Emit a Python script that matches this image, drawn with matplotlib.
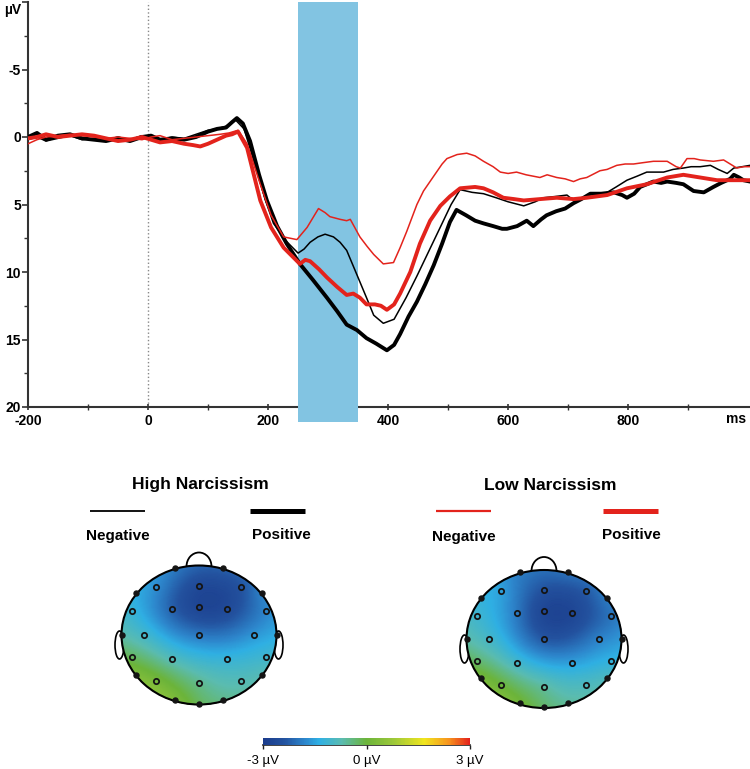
import numpy as np
import matplotlib
matplotlib.use("Agg")
import matplotlib.pyplot as plt
from matplotlib.colors import LinearSegmentedColormap, Normalize
from matplotlib.patches import Ellipse, Rectangle

plt.rcParams['font.family'] = ['Liberation Sans', 'DejaVu Sans']

# ---------------------------------------------------------------------
# ERP waveforms (ms, µV; negative plotted upward)
# ---------------------------------------------------------------------
hi_pos_t = [-200, -185, -170, -150, -130, -110, -90, -70, -50, -30, -10, 5, 20, 40, 60, 80, 100, 115, 130, 140,
            148, 158, 170, 185, 198, 215, 231, 253, 275, 298, 315, 331, 348, 364, 380, 398, 410, 420, 434, 448,
            462, 476, 490, 503, 514, 530, 545, 559, 575, 590, 598, 615, 631, 642, 655, 664, 680, 695, 709, 722,
            737, 755, 776, 790, 798, 810, 820, 831, 842, 855, 865, 880, 892, 909, 926, 942, 955, 970, 976, 985,
            992, 1003]
hi_pos_v = [0.0, -0.3, 0.2, -0.1, -0.2, 0.1, 0.2, 0.3, 0.1, 0.3, 0.0, -0.1, 0.2, 0.1, 0.2, 0.0, -0.4, -0.6, -0.7, -1.1,
            -1.4, -1.0, 0.3, 2.8, 4.7, 6.6, 7.9, 9.4, 10.6, 11.9, 12.9, 13.9, 14.3, 14.9, 15.3, 15.8, 15.4, 14.6, 13.3, 12.2,
            10.9, 9.5, 7.9, 6.3, 5.4, 5.8, 6.2, 6.4, 6.6, 6.8, 6.8, 6.6, 6.2, 6.6, 6.1, 5.8, 5.5, 5.3, 4.9, 4.6,
            4.2, 4.2, 4.1, 4.3, 4.5, 4.2, 3.7, 3.5, 3.3, 3.4, 3.3, 3.4, 3.5, 4.0, 4.1, 3.7, 3.4, 3.1, 2.8, 3.0,
            3.2, 3.3]

hi_neg_t = [-200, -185, -170, -150, -130, -110, -90, -70, -50, -30, -10, 5, 20, 40, 60, 80, 100, 115, 130, 145,
            160, 180, 195, 209, 230, 250, 260, 270, 283, 295, 309, 320, 331, 348, 364, 376, 392, 410, 430, 448,
            462, 476, 490, 505, 520, 540, 559, 580, 600, 626, 645, 659, 680, 698, 709, 720, 731, 750, 765, 780,
            798, 815, 831, 845, 859, 875, 892, 905, 920, 937, 950, 965, 976, 990, 1003]
hi_neg_v = [0.2, 0.0, 0.3, 0.1, -0.1, 0.2, 0.1, 0.2, 0.0, 0.2, -0.1, 0.1, 0.2, 0.0, 0.1, -0.2, -0.5, -0.6, -0.8, -1.3,
            -0.6, 2.3, 4.6, 6.4, 7.7, 8.6, 8.3, 7.8, 7.4, 7.2, 7.4, 7.8, 8.4, 10.2, 11.9, 13.2, 13.8, 13.5, 11.9, 10.3,
            9.0, 7.7, 6.4, 5.0, 3.9, 4.1, 4.2, 4.5, 4.8, 5.1, 4.8, 4.5, 4.4, 4.3, 4.7, 4.6, 4.5, 4.3, 4.1, 3.7,
            3.2, 2.9, 2.6, 2.6, 2.6, 2.4, 2.3, 2.2, 2.2, 2.1, 2.4, 2.7, 2.3, 2.2, 2.1]

lo_neg_t = [-200, -185, -170, -150, -130, -110, -90, -70, -50, -30, -10, 5, 20, 40, 60, 80, 100, 120, 135, 150,
            165, 187, 205, 226, 248, 265, 284, 295, 303, 320, 331, 337, 353, 365, 376, 392, 409, 420, 431, 448,
            459, 476, 490, 498, 515, 531, 545, 559, 575, 587, 600, 614, 630, 653, 665, 681, 695, 709, 720, 731,
            753, 765, 781, 795, 809, 825, 842, 865, 880, 887, 898, 910, 920, 942, 959, 970, 981, 992, 1003]
lo_neg_v = [0.5, 0.2, 0.0, -0.1, -0.2, -0.1, 0.0, 0.1, 0.0, 0.1, 0.2, 0.0, -0.1, 0.2, 0.1, 0.0, -0.1, -0.2, -0.3, -0.5,
            0.5, 3.5, 5.8, 7.4, 7.6, 6.7, 5.3, 5.6, 5.9, 6.1, 6.2, 6.1, 7.4, 8.1, 8.7, 9.4, 9.3, 8.2, 7.0, 5.0,
            4.0, 2.9, 2.0, 1.6, 1.3, 1.2, 1.4, 1.8, 2.2, 2.6, 2.7, 2.6, 2.8, 3.0, 2.8, 3.0, 3.1, 3.3, 3.1, 3.0,
            2.5, 2.4, 2.1, 2.0, 2.0, 1.9, 1.8, 1.8, 2.2, 2.3, 1.6, 1.6, 1.7, 1.8, 1.7, 2.0, 2.3, 2.2, 2.2]

lo_pos_t = [-200, -185, -170, -150, -130, -110, -90, -70, -50, -30, -10, 5, 20, 40, 60, 75, 87, 100, 115, 130,
            140, 150, 165, 187, 205, 226, 253, 262, 270, 285, 298, 315, 331, 342, 353, 364, 378, 388, 398, 410,
            420, 437, 453, 470, 487, 503, 520, 545, 559, 575, 592, 610, 626, 653, 681, 709, 731, 765, 798, 831,
            865, 892, 920, 948, 976, 1003]
lo_pos_v = [0.1, 0.0, -0.2, 0.0, -0.1, -0.2, -0.1, 0.1, 0.3, 0.2, 0.0, 0.2, 0.4, 0.3, 0.5, 0.6, 0.7, 0.5, 0.2, -0.1,
            -0.2, -0.4, 0.8, 4.7, 6.7, 8.2, 9.4, 9.1, 9.2, 9.8, 10.4, 11.1, 11.7, 11.6, 11.9, 12.4, 12.4, 12.5, 12.8, 12.4,
            11.6, 10.0, 7.9, 6.2, 5.1, 4.4, 3.8, 3.7, 3.8, 4.1, 4.5, 4.6, 4.7, 4.6, 4.5, 4.6, 4.5, 4.3, 3.8, 3.5,
            3.0, 2.8, 3.0, 3.2, 3.2, 3.2]

window = (250, 350)

# ---------------------------------------------------------------------
# Topography (electrode layout in unit head coords, values in µV)
# ---------------------------------------------------------------------
elec_u = [-0.31, 0.31, -0.55, 0.0, 0.54, -0.81, 0.81, -0.87, -0.35, 0.0, 0.36, 0.87, -1.0, -0.71, 0.0,
          0.71, 1.0, -0.87, -0.35, 0.36, 0.87, -0.81, -0.55, 0.0, 0.54, 0.81, -0.31, 0.0, 0.31]
elec_v = [0.97, 0.97, 0.69, 0.71, 0.69, 0.60, 0.60, 0.34, 0.38, 0.40, 0.38, 0.34, 0.0, 0.0, 0.0,
          0.0, 0.0, -0.32, -0.35, -0.35, -0.32, -0.57, -0.66, -0.69, -0.66, -0.57, -0.93, -0.99, -0.93]
topo_high = [-1.9, -2.2, -1.7, -2.6, -2.4, -1.4, -1.8, -1.2, -2.2, -2.7, -2.6, -1.8, -0.7, -1.0, -1.9,
             -1.6, -1.4, -0.2, -0.8, -1.2, -1.1, 0.3, 0.2, -0.5, -0.8, -0.8, 0.3, -0.2, -0.5]
topo_low = [-1.9, -2.0, -1.5, -2.4, -2.3, -1.3, -1.9, -1.1, -1.9, -2.7, -2.7, -2.0, -0.7, -1.0, -2.3,
            -1.8, -1.6, -0.3, -1.0, -1.5, -1.3, 0.2, 0.0, -0.6, -0.9, -0.9, 0.1, -0.3, -0.6]

cmap = LinearSegmentedColormap.from_list(
    'topo', [(0.0, '#1b3c8c'), (0.1, '#23529f'), (0.2, '#2d86cc'), (0.27, '#2fb0e4'), (0.38, '#5bbcb0'),
             (0.5, '#6cb43a'), (0.63, '#9cc83a'), (0.78, '#f0e51e'), (0.9, '#f7931e'), (1.0, '#e3201b')])
norm = Normalize(-3, 3)


def tps_surface(u, v, vals, gu, gv, smooth=0.02):
    """thin plate spline through the electrode values"""
    pts = np.c_[u, v]
    n = len(pts)
    d = np.hypot(pts[:, None, 0] - pts[None, :, 0], pts[:, None, 1] - pts[None, :, 1])
    with np.errstate(divide='ignore', invalid='ignore'):
        K = np.where(d > 0, d ** 2 * np.log(d), 0.0)
    K += smooth * np.eye(n)
    P = np.c_[np.ones(n), pts]
    A = np.zeros((n + 3, n + 3))
    A[:n, :n] = K
    A[:n, n:] = P
    A[n:, :n] = P.T
    b = np.r_[vals, np.zeros(3)]
    coef = np.linalg.solve(A, b)
    w, a = coef[:n], coef[n:]
    g = np.c_[gu.ravel(), gv.ravel()]
    dg = np.hypot(g[:, None, 0] - pts[None, :, 0], g[:, None, 1] - pts[None, :, 1])
    with np.errstate(divide='ignore', invalid='ignore'):
        Kg = np.where(dg > 0, dg ** 2 * np.log(dg), 0.0)
    out = Kg @ w + a[0] + a[1] * g[:, 0] + a[2] * g[:, 1]
    return out.reshape(gu.shape)


def draw_head(ax, cx, cy, a, b, values):
    gu, gv = np.meshgrid(np.linspace(-1, 1, 160), np.linspace(-1, 1, 160))
    z = tps_surface(np.array(elec_u), np.array(elec_v), np.array(values), gu, gv)
    # nose and ears behind the scalp
    ax.add_patch(Ellipse((cx, cy - b + 1), 25, 28, fc='white', ec='black', lw=1.3, zorder=2))
    for side in (-1, 1):
        ax.add_patch(Ellipse((cx + side * (a + 2), cy + 10), 9, 28, fc='white', ec='black', lw=1.2, zorder=2))
    scalp = Ellipse((cx, cy), 2 * a, 2 * b, fc='none', ec='black', lw=1.5, zorder=4)
    mesh = ax.pcolormesh(cx + a * gu, cy - b * gv, z, cmap=cmap, norm=norm, shading='gouraud', zorder=3)
    clip = Ellipse((cx, cy), 2 * a, 2 * b, transform=ax.transData)
    mesh.set_clip_path(clip)
    ax.add_patch(scalp)
    eu, ev = np.array(elec_u), np.array(elec_v)
    edge = np.hypot(eu, ev) > 0.95
    ex, ey = cx + a * eu, cy - b * ev
    ax.plot(ex[edge], ey[edge], 'o', ms=3.6, color='#151515', zorder=5)
    ax.plot(ex[~edge], ey[~edge], 'o', ms=3.8, mfc='none', mec='#151515', mew=1.3, zorder=5)
    return mesh


fig = plt.figure(figsize=(7.5, 7.69), dpi=100)

# ---------------------------------------------------------------------
# ERP panel
# ---------------------------------------------------------------------
ax = fig.add_axes([28 / 750, 1 - 407 / 769, 722 / 750, 405 / 769])
ax.set_xlim(-200, 1003)
ax.set_ylim(20, -10)

ax.add_patch(Rectangle((window[0], -10), window[1] - window[0], 31.1, color='#82c4e2',
                       zorder=2.6, clip_on=False, lw=0))
ax.axvline(0, color='#888888', ls=':', lw=1.0, zorder=1)

ax.plot(hi_neg_t, hi_neg_v, color='black', lw=1.1, zorder=3)
ax.plot(hi_pos_t, hi_pos_v, color='black', lw=2.8, zorder=3)
ax.plot(lo_neg_t, lo_neg_v, color='#e3231c', lw=1.1, zorder=3)
ax.plot(lo_pos_t, lo_pos_v, color='#e3231c', lw=2.8, zorder=3)

for s in ('top', 'right'):
    ax.spines[s].set_visible(False)
for s in ('left', 'bottom'):
    ax.spines[s].set_color('#333333')
    ax.spines[s].set_linewidth(1.5)

ax.set_xticks([-200, 0, 200, 400, 600, 800])
ax.set_xticklabels(['-200', '0', '200', '400', '600', '800'], fontweight='bold', fontsize=10)
ax.set_xticks(np.arange(-100, 1001, 200), minor=True)
ax.set_yticks([-10, -5, 0, 5, 10, 15, 20])
ax.set_yticklabels(['', '-5', '0', '5', '10', '15', '20'], fontweight='bold', fontsize=10)
ax.set_yticks(np.arange(-7.5, 20, 5), minor=True)
ax.tick_params(axis='x', which='major', direction='inout', length=5, width=1.2, color='#333333', pad=2.5)
ax.tick_params(axis='x', which='minor', direction='inout', length=4, width=1.0, color='#333333')
ax.tick_params(axis='y', which='major', direction='out', length=4, width=1.2, color='#333333', pad=1)
ax.tick_params(axis='y', which='minor', direction='out', length=3, width=1.0, color='#333333')
ax.text(979, 20.4, 'ms', ha='center', va='top', fontsize=10, fontweight='bold')

# ---------------------------------------------------------------------
# Legend and topographies (pixel coordinates)
# ---------------------------------------------------------------------
ov = fig.add_axes([0, 0, 1, 1])
ov.set_xlim(0, 750)
ov.set_ylim(769, 0)
ov.axis('off')
ov.patch.set_visible(False)

ov.text(13, 10, 'µV', ha='center', va='center', fontsize=10, fontweight='bold')

ov.text(200, 485, 'High Narcissism', ha='center', va='center', fontsize=12.5, fontweight='bold')
ov.text(550, 485, 'Low Narcissism', ha='center', va='center', fontsize=12.5, fontweight='bold')
legend_items = [(90, 145, 'black', 1.3, 'Negative', 118, 536),
                (250, 305, 'black', 3.6, 'Positive', 281, 535),
                (436, 491, '#e3231c', 1.6, 'Negative', 464, 537),
                (603, 658, '#e3231c', 3.6, 'Positive', 631, 535)]
for x0, x1, col, lw, lab, tx, ty in legend_items:
    ov.plot([x0, x1], [511, 511], color=col, lw=lw, solid_capstyle='butt')
    ov.text(tx, ty, lab, ha='center', va='center', fontsize=11, fontweight='bold')

mesh = draw_head(ov, 199, 635, 77.5, 69.5, topo_high)
draw_head(ov, 544, 639, 77.5, 69, topo_low)

cax = fig.add_axes([263.3 / 750, 1 - 745 / 769, 206.7 / 750, 7.3 / 769])
cb = fig.colorbar(mesh, cax=cax, orientation='horizontal', ticks=[-3, 0, 3])
cb.set_ticklabels(['-3 µV', '0 µV', '3 µV'])
cb.outline.set_visible(False)
cax.tick_params(length=3, width=1, labelsize=9.5, pad=4, color='#222222')
ov.plot([263.3, 470], [745.3, 745.3], color='#222222', lw=1.2)

fig.savefig('out.png', dpi=100)
